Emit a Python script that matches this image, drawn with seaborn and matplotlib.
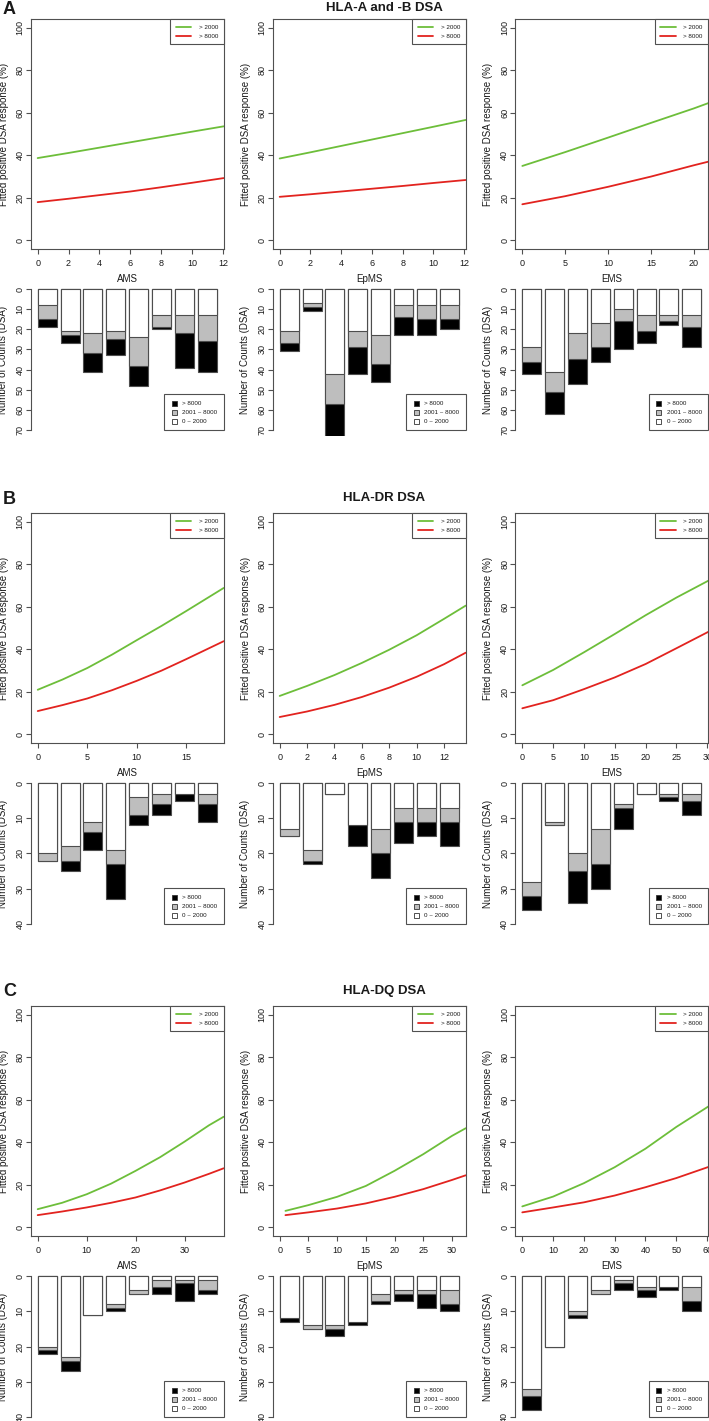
import matplotlib
matplotlib.use("Agg")
import matplotlib.pyplot as plt
import seaborn as sns
import numpy as np
from matplotlib.lines import Line2D

sns.set_theme(style="ticks")
plt.rcParams['font.family'] = ['Liberation Sans', 'DejaVu Sans']

# ---------------- data ----------------
measures = ["AMS", "EpMS", "EMS"]
group_titles = ["HLA-A and -B DSA", "HLA-DR DSA", "HLA-DQ DSA"]
panel_letters = ["A", "B", "C"]
line_labels = ["> 2000", "> 8000"]
bar_labels = ["> 8000", "2001 ~ 8000", "0 ~ 2000"]

# fitted curves (x, >2000 green, >8000 red)
a_ams_x = [0, 2, 4, 6, 8, 10, 12.04]
a_ams_g = [38.7, 41.1, 43.6, 46.1, 48.6, 51.1, 53.6]
a_ams_r = [18.0, 19.6, 21.3, 23.0, 25.0, 27.1, 29.3]
a_epms_x = [0, 2, 4, 6, 8, 10, 12.1]
a_epms_g = [38.5, 41.4, 44.4, 47.4, 50.4, 53.4, 56.6]
a_epms_r = [20.5, 21.7, 23.0, 24.3, 25.6, 27.0, 28.4]
a_ems_x = [0, 5, 10, 15, 20, 21.7]
a_ems_g = [35.0, 41.5, 48.3, 55.2, 62.0, 64.5]
a_ems_r = [17.0, 20.8, 25.2, 30.0, 35.3, 37.0]

b_ams_x = [0, 2.5, 5, 7.5, 10, 12.5, 15, 18.77]
b_ams_g = [21.0, 25.8, 31.2, 37.5, 44.3, 51.0, 58.0, 68.8]
b_ams_r = [11.0, 13.8, 16.9, 20.8, 25.2, 30.0, 35.4, 43.8]
b_epms_x = [0, 2, 4, 6, 8, 10, 12, 13.58]
b_epms_g = [18.1, 22.8, 27.9, 33.6, 39.8, 46.6, 54.3, 60.5]
b_epms_r = [8.2, 10.8, 13.9, 17.6, 22.0, 27.1, 33.0, 38.4]
b_ems_x = [0, 5, 10, 15, 20, 25, 30.16]
b_ems_g = [23.1, 30.3, 38.6, 47.2, 56.0, 64.3, 72.2]
b_ems_r = [12.3, 16.1, 21.3, 26.8, 33.1, 40.5, 48.2]

c_ams_x = [0, 5, 10, 15, 20, 25, 30, 35, 38]
c_ams_g = [8.6, 11.6, 15.6, 20.6, 26.6, 33.0, 40.3, 48.0, 52.0]
c_ams_r = [5.8, 7.5, 9.4, 11.6, 14.1, 17.4, 21.1, 25.2, 27.8]
c_epms_x = [1, 5, 10, 15, 20, 25, 30, 32.4]
c_epms_g = [7.8, 10.5, 14.4, 19.5, 26.6, 34.4, 43.0, 46.6]
c_epms_r = [5.8, 7.1, 8.9, 11.3, 14.4, 18.0, 22.3, 24.5]
c_ems_x = [0, 10, 20, 30, 40, 50, 60.4]
c_ems_g = [9.9, 14.5, 20.8, 28.3, 37.0, 47.2, 56.8]
c_ems_r = [7.1, 9.4, 11.8, 15.0, 18.9, 23.2, 28.4]

# x-axis limits and ticks of the fitted-curve panels
a_xlims = [(-0.45, 12.04), (-0.455, 12.1), (-0.82, 21.7)]
b_xlims = [(-0.71, 18.77), (-0.51, 13.58), (-1.14, 30.16)]
c_xlims = [(-1.43, 38.0), (-1.22, 32.4), (-2.27, 60.4)]
a_xticks = [[0, 2, 4, 6, 8, 10, 12], [0, 2, 4, 6, 8, 10, 12], [0, 5, 10, 15, 20]]
b_xticks = [[0, 5, 10, 15], [0, 2, 4, 6, 8, 10, 12], [0, 5, 10, 15, 20, 25, 30]]
c_xticks = [[0, 10, 20, 30], [0, 5, 10, 15, 20, 25, 30], [0, 10, 20, 30, 40, 50, 60]]
fit_yticks = [0, 20, 40, 60, 80, 100]

# counts per bar: low (0~2000), mid (2001~8000), high (>8000)
a_ams_low = [8, 21, 22, 21, 24, 13, 13, 13]
a_ams_mid = [7, 2, 10, 4, 14, 6, 9, 13]
a_ams_high = [4, 4, 9, 8, 10, 1, 17, 15]
a_epms_low = [21, 7, 42, 21, 23, 8, 8, 8]
a_epms_mid = [6, 2, 15, 8, 14, 6, 7, 7]
a_epms_high = [4, 2, 18, 13, 9, 9, 8, 5]
a_ems_low = [29, 41, 22, 17, 10, 13, 13, 13]
a_ems_mid = [7, 10, 13, 12, 6, 8, 3, 6]
a_ems_high = [6, 11, 12, 7, 14, 6, 2, 10]

b_ams_low = [20, 18, 11, 19, 4, 3, 3, 3]
b_ams_mid = [2, 4, 3, 4, 5, 3, 0, 3]
b_ams_high = [0, 3, 5, 10, 3, 3, 2, 5]
b_epms_low = [13, 19, 3, 12, 13, 7, 7, 7]
b_epms_mid = [2, 3, 0, 0, 7, 4, 4, 4]
b_epms_high = [0, 1, 0, 6, 7, 6, 4, 7]
b_ems_low = [28, 11, 20, 13, 6, 3, 3, 3]
b_ems_mid = [4, 1, 5, 10, 1, 0, 1, 2]
b_ems_high = [4, 0, 9, 7, 6, 0, 1, 4]

c_ams_low = [20, 23, 11, 8, 4, 1, 1, 1]
c_ams_mid = [1, 1, 0, 1, 1, 2, 1, 3]
c_ams_high = [1, 3, 0, 1, 0, 2, 5, 1]
c_epms_low = [12, 14, 14, 13, 5, 4, 4, 4]
c_epms_mid = [0, 1, 1, 0, 2, 1, 1, 4]
c_epms_high = [1, 0, 2, 1, 1, 2, 4, 2]
c_ems_low = [32, 20, 10, 4, 1, 3, 3, 3]
c_ems_mid = [2, 0, 1, 1, 1, 1, 0, 4]
c_ems_high = [4, 0, 1, 0, 2, 2, 1, 3]

bar_ymax = [70, 40, 40]

fits = [
    [(a_ams_x, a_ams_g, a_ams_r), (a_epms_x, a_epms_g, a_epms_r), (a_ems_x, a_ems_g, a_ems_r)],
    [(b_ams_x, b_ams_g, b_ams_r), (b_epms_x, b_epms_g, b_epms_r), (b_ems_x, b_ems_g, b_ems_r)],
    [(c_ams_x, c_ams_g, c_ams_r), (c_epms_x, c_epms_g, c_epms_r), (c_ems_x, c_ems_g, c_ems_r)],
]
xlims = [a_xlims, b_xlims, c_xlims]
xticks = [a_xticks, b_xticks, c_xticks]
bars = [
    [(a_ams_low, a_ams_mid, a_ams_high), (a_epms_low, a_epms_mid, a_epms_high), (a_ems_low, a_ems_mid, a_ems_high)],
    [(b_ams_low, b_ams_mid, b_ams_high), (b_epms_low, b_epms_mid, b_epms_high), (b_ems_low, b_ems_mid, b_ems_high)],
    [(c_ams_low, c_ams_mid, c_ams_high), (c_epms_low, c_epms_mid, c_epms_high), (c_ems_low, c_ems_mid, c_ems_high)],
]

# ---------------- style ----------------
GREEN = "#6DBE3A"
RED = "#E2231F"
GRAY = "#BEBEBE"
AX = "#505050"
TXT = "#1a1a1a"

W, H = 709, 1421
fig = plt.figure(figsize=(W / 100, H / 100), dpi=100)


def axes_px(left, top, width, height):
    return fig.add_axes([left / W, 1 - (top + height) / H, width / W, height / H])


col_left = [30.7, 272.7, 515.3]
col_w = 193
fit_top = [19, 513, 1006]
fit_h = 230
bar_top = [283.4, 777.4, 1270.4]
bar_h = 152.2
title_y = [8, 498, 991]


def style_ticks(ax):
    ax.tick_params(direction="out", length=3.4, width=0.8, color=AX,
                   labelsize=6.5, labelcolor=TXT)
    ax.tick_params(axis="x", pad=3.5)
    ax.tick_params(axis="y", pad=1.0, labelrotation=90)
    plt.setp(ax.get_yticklabels(), va="center")


for r in range(3):
    for c in range(3):
        # ---- fitted curves panel ----
        ax = axes_px(col_left[c], fit_top[r], col_w, fit_h)
        x, g, rd = fits[r][c]
        sns.lineplot(x=x, y=g, color=GREEN, lw=1.3, ax=ax, label=line_labels[0])
        sns.lineplot(x=x, y=rd, color=RED, lw=1.3, ax=ax, label=line_labels[1])
        ax.set_xlim(*xlims[r][c])
        ax.set_ylim(-4, 104)
        ax.set_xticks(xticks[r][c])
        ax.set_yticks(fit_yticks)
        for s in ax.spines.values():
            s.set_color(AX)
            s.set_linewidth(0.8)
        style_ticks(ax)
        ax.set_xlabel(measures[c], fontsize=7, color=TXT, labelpad=4.5)
        ax.set_ylabel("Fitted positive DSA response (%)", fontsize=7, color=TXT)
        ax.yaxis.set_label_coords(-0.114, 0.5)
        leg = ax.legend(loc="upper right", borderaxespad=0, fontsize=4.5,
                        handlelength=2.5, handletextpad=1.2, borderpad=0.9,
                        labelspacing=0.55, fancybox=False, framealpha=1)
        leg.get_frame().set_edgecolor(AX)
        leg.get_frame().set_linewidth(0.8)
        for t in leg.get_texts():
            t.set_color(TXT)

        # ---- counts bar panel ----
        bx = axes_px(col_left[c], bar_top[r], col_w, bar_h)
        bx.patch.set_visible(False)
        low, mid, high = bars[r][c]
        pos = np.arange(len(low))
        tot = np.array(low) + np.array(mid) + np.array(high)
        lm = np.array(low) + np.array(mid)
        common = dict(ax=bx, width=1 / 1.2, saturation=1, errorbar=None,
                      edgecolor="#4d4d4d", linewidth=0.8)
        sns.barplot(x=pos, y=tot, color="black", **common)
        sns.barplot(x=pos, y=lm, color=GRAY, **common)
        sns.barplot(x=pos, y=low, color="white", **common)
        ym = bar_ymax[r]
        bx.set_xlim(-0.73, 7.73)
        bx.set_ylim(ym * 1.04, -ym * 0.04)
        bx.set_yticks(np.arange(0, ym + 1, 10))
        bx.set_xticks([])
        for side in ["top", "right", "bottom"]:
            bx.spines[side].set_visible(False)
        bx.spines["left"].set_color(AX)
        bx.spines["left"].set_linewidth(0.8)
        bx.spines["left"].set_bounds(0, ym)
        style_ticks(bx)
        bx.set_xlabel("")
        bx.set_ylabel("Number of Counts (DSA)", fontsize=7, color=TXT)
        bx.yaxis.set_label_coords(-0.116, 0.5)
        handles = [Line2D([], [], marker="s", ls="none", markersize=3.6,
                          markerfacecolor=fc, markeredgecolor="#333333",
                          markeredgewidth=0.6)
                   for fc in ["black", GRAY, "white"]]
        bl = bx.legend(handles, bar_labels, loc="lower right",
                       bbox_to_anchor=(1.0, 0.035), borderaxespad=0,
                       fontsize=4.5, handlelength=1.0, handletextpad=0.9,
                       borderpad=1.0, labelspacing=0.6, fancybox=False,
                       framealpha=1)
        bl.get_frame().set_edgecolor(AX)
        bl.get_frame().set_linewidth(0.8)
        for t in bl.get_texts():
            t.set_color(TXT)

    fig.text(384 / W, 1 - title_y[r] / H, group_titles[r], ha="center",
             va="center", fontsize=9.5, fontweight="bold", color=TXT)
    fig.text(3 / W, 1 - (title_y[r] + 1) / H, panel_letters[r], ha="left",
             va="center", fontsize=13, fontweight="bold", color=TXT)

fig.savefig("out.png", dpi=100)
